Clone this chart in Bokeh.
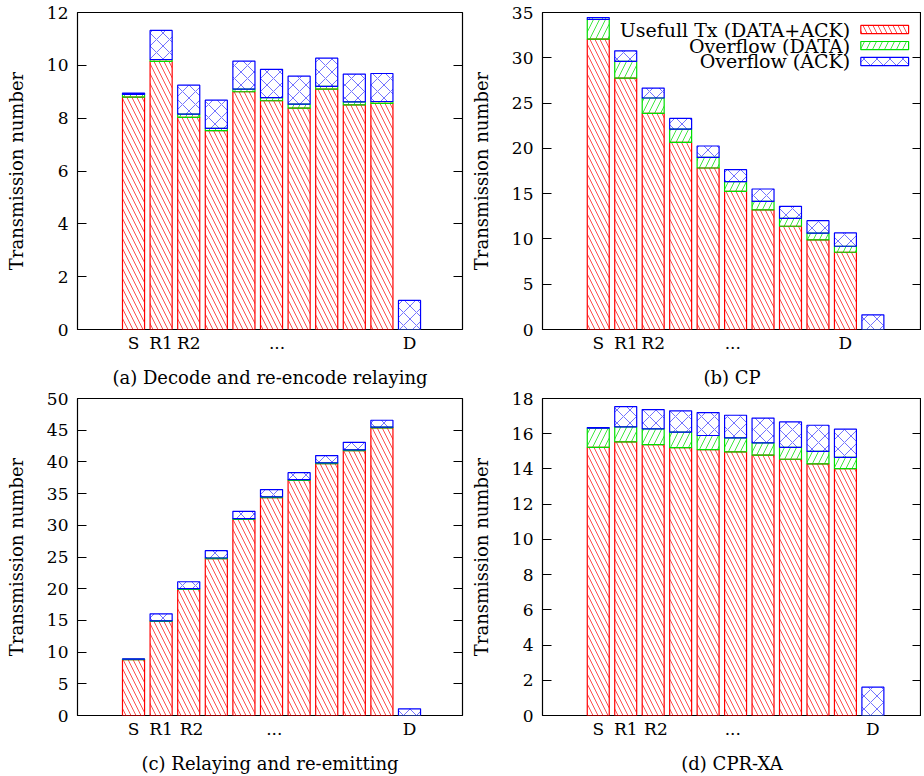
from bokeh.plotting import figure
from bokeh.layouts import gridplot
from bokeh.models import (ColumnDataSource, Range1d, FixedTicker, LinearAxis,
                          Label, BoxAnnotation, CustomJSTickFormatter)
from bokeh.embed import file_html
from bokeh.resources import INLINE

# ---------------- data ----------------
positions = [0, 1, 2, 3, 4, 5, 6, 7, 8, 9, 10]
series_names = ["Usefull Tx (DATA+ACK)", "Overflow (DATA)", "Overflow (ACK)"]

a_useful = [8.8, 10.15, 8.03, 7.53, 9.0, 8.66, 8.38, 9.1, 8.5, 8.56, 0]
a_ovd = [0.1, 0.07, 0.12, 0.08, 0.1, 0.12, 0.15, 0.1, 0.12, 0.07, 0]
a_ova = [0.05, 1.1, 1.1, 1.07, 1.06, 1.07, 1.06, 1.07, 1.05, 1.06, 1.1]

b_useful = [32.05, 27.75, 23.86, 20.66, 17.83, 15.26, 13.2, 11.4, 9.89, 8.53, 0]
b_ovd = [2.2, 1.85, 1.7, 1.47, 1.17, 1.06, 0.95, 0.88, 0.74, 0.66, 0]
b_ova = [0.2, 1.17, 1.1, 1.18, 1.26, 1.33, 1.36, 1.32, 1.39, 1.47, 1.62]

c_useful = [8.8, 14.84, 19.9, 24.74, 30.95, 34.37, 37.1, 39.74, 41.79, 45.37, 0]
c_ovd = [0.08, 0.1, 0.1, 0.1, 0.1, 0.1, 0.1, 0.1, 0.1, 0.1, 0]
c_ova = [0.05, 1.1, 1.1, 1.16, 1.15, 1.16, 1.1, 1.16, 1.2, 1.1, 1.05]

d_useful = [15.23, 15.54, 15.38, 15.21, 15.1, 14.97, 14.78, 14.55, 14.29, 14.02, 0]
d_ovd = [1.08, 0.85, 0.9, 0.88, 0.8, 0.79, 0.7, 0.68, 0.71, 0.64, 0]
d_ova = [0.04, 1.15, 1.09, 1.21, 1.3, 1.29, 1.41, 1.44, 1.48, 1.6, 1.61]

tick_labels = ["S", "R1", "R2", "...", "D"]
a_ticks = [0, 1, 2, 5.2, 10]
b_ticks = [0, 1, 2, 4.9, 9]
c_ticks = [0, 1, 2.1, 5.1, 10]
d_ticks = [0, 1, 2.1, 4.9, 10]

captions = ["(a) Decode and re-encode relaying", "(b) CP",
            "(c) Relaying and re-emitting", "(d) CPR-XA"]
y_max = [12, 35, 50, 18]
y_step = [2, 5, 5, 2]

# ---------------- style ----------------
FONT = "DejaVu Serif"
colors = ["#ff0000", "#00dd00", "#0000ff"]
hatches = ["\\", "/", "x"]
hatch_scales = [10, 12, 13]
hatch_alphas = [0.7, 0.75, 0.55]


def make_panel(useful, ovd, ova, ticks, caption, ymax, ystep, width,
               border_left, border_right, border_top, border_bottom, x_end):
    src = ColumnDataSource(dict(x=positions, useful=useful, ovd=ovd, ova=ova))
    p = figure(width=width, height=border_top + 317 + border_bottom,
               output_backend="svg", toolbar_location=None,
               x_range=Range1d(-2.03, x_end), y_range=Range1d(0, ymax),
               min_border_left=border_left, min_border_right=border_right,
               min_border_top=border_top, min_border_bottom=border_bottom,
               y_axis_label="Transmission number", x_axis_label=caption)
    p.vbar_stack(["useful", "ovd", "ova"], x="x", width=0.8, source=src,
                 fill_alpha=0, line_color=colors, line_width=1.2,
                 hatch_pattern=hatches, hatch_color=colors,
                 hatch_scale=hatch_scales, hatch_weight=1, hatch_alpha=hatch_alphas)
    p.grid.visible = False
    p.outline_line_color = "black"
    p.outline_line_width = 1.2
    p.background_fill_color = "white"
    p.border_fill_color = "white"

    ya = p.yaxis[0]
    ya.ticker = FixedTicker(ticks=list(range(0, ymax + 1, ystep)))
    ya.major_tick_in = 9
    ya.major_tick_out = 0
    ya.major_tick_line_color = "black"
    ya.minor_tick_line_color = None
    ya.axis_line_color = None
    ya.major_label_standoff = 9
    ya.major_label_text_font = FONT
    ya.major_label_text_font_size = "17px"
    ya.major_label_text_color = "black"
    ya.axis_label_text_font = FONT
    ya.axis_label_text_font_size = "18px"
    ya.axis_label_text_font_style = "normal"
    ya.axis_label_text_color = "black"
    ya.axis_label_standoff = 17

    ra = LinearAxis(ticker=FixedTicker(ticks=list(range(0, ymax + 1, ystep))),
                    formatter=CustomJSTickFormatter(code="return ''"),
                    major_tick_in=9, major_tick_out=0, minor_tick_line_color=None,
                    major_tick_line_color="black",
                    axis_line_color=None, major_label_text_color=None,
                    major_label_standoff=0)
    p.add_layout(ra, "right")

    xa = p.xaxis[0]
    xa.ticker = FixedTicker(ticks=ticks)
    xa.major_label_overrides = {t: lab for t, lab in zip(ticks, tick_labels)}
    xa.major_tick_in = 0
    xa.major_tick_out = 0
    xa.minor_tick_line_color = None
    xa.axis_line_color = None
    xa.major_label_standoff = 3
    xa.major_label_text_font = FONT
    xa.major_label_text_font_size = "17px"
    xa.major_label_text_color = "black"
    xa.axis_label_text_font = FONT
    xa.axis_label_text_font_size = "18px"
    xa.axis_label_text_font_style = "normal"
    xa.axis_label_text_color = "black"
    xa.axis_label_standoff = 11
    return p


pa = make_panel(a_useful, a_ovd, a_ova, a_ticks, captions[0], y_max[0], y_step[0],
                467, 77, 5, 12, 61, 11.92)
pb = make_panel(b_useful, b_ovd, b_ova, b_ticks, captions[1], y_max[1], y_step[1],
                454, 73, 0, 12, 61, 11.77)
pc = make_panel(c_useful, c_ovd, c_ova, c_ticks, captions[2], y_max[2], y_step[2],
                467, 77, 5, 8, 61, 11.92)
pd = make_panel(d_useful, d_ovd, d_ova, d_ticks, captions[3], y_max[3], y_step[3],
                454, 73, 0, 8, 61, 11.77)

# ---------------- legend (panel b, label left of swatch like gnuplot) -------------
legend_y = [33.12, 31.35, 29.59]
for name, col, h, hs, ha, ly in zip(series_names, colors, hatches, hatch_scales,
                                    hatch_alphas, legend_y):
    pb.add_layout(Label(x=9.17, y=ly, text=name, text_align="right",
                        text_baseline="middle", text_font=FONT,
                        text_font_size="19px", text_color="black"))
    pb.add_layout(BoxAnnotation(left=9.56, right=11.3, bottom=ly - 0.45, top=ly + 0.45,
                                fill_alpha=0, line_color=col, line_width=1.2,
                                line_alpha=1, hatch_pattern=h, hatch_color=col,
                                hatch_scale=hs, hatch_alpha=ha, hatch_weight=1))

grid = gridplot([[pa, pb], [pc, pd]], toolbar_location=None)

open("out.html", "w").write(file_html(grid, INLINE))
